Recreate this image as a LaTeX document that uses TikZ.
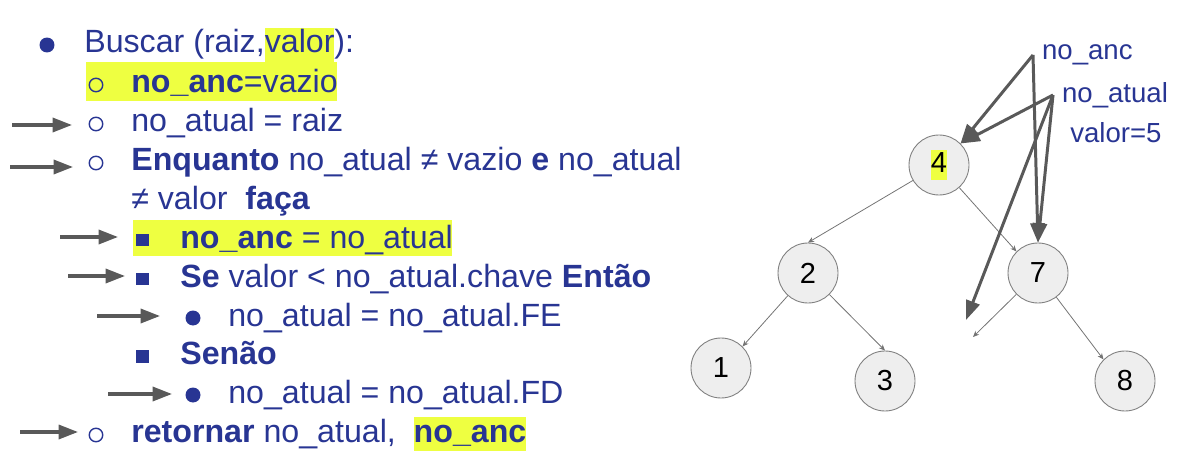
\documentclass[tikz,border=0pt]{standalone}
\usepackage{fontspec}
\setmainfont{Liberation Sans}
\usepackage{tikz}
\usetikzlibrary{arrows.meta, positioning}
\definecolor{inkblue}{HTML}{283593}
\definecolor{hilite}{HTML}{EEFF41}
\definecolor{ptrgray}{HTML}{595959}
\definecolor{keyfill}{HTML}{EEEEEE}
\newcommand{\hl}[1]{{\setlength{\fboxsep}{0pt}\colorbox{hilite}{\rule[-0.27em]{0pt}{1.05em}#1}}}
\tikzset{
    x=0.02cm, y=-0.02cm, % one unit is one pixel of the slide
    codeline/.style={anchor=base west, inner sep=0pt, text=inkblue, font=\fontsize{18.3}{22}\selectfont}, % a line of the pseudo code
    dotbullet/.style={circle, fill=inkblue, inner sep=0pt, minimum size=0.3cm},
    ringbullet/.style={circle, draw=inkblue, line width=0.8pt, inner sep=0pt, minimum size=0.27cm},
    sqbullet/.style={rectangle, fill=inkblue, inner sep=0pt, minimum size=0.26cm},
    ptr/.style={draw=ptrgray, line width=1.8pt, -{Triangle[length=11pt, width=8pt]}}, % arrows on the left
}

\begin{document}
\begin{tikzpicture}[
                                key/.style={circle, draw=gray, line width=0.5pt, fill=keyfill, minimum size=1.2cm, inner sep=0pt, font=\fontsize{16.5}{18}\selectfont},
                                treeedge/.style={draw=gray!90!black, line width=0.45pt, -{Stealth[length=3.5pt, width=3pt]}},
                                bigptr/.style={draw=ptrgray, line width=1.7pt, -{Triangle[length=11pt, width=8pt]}},
                                varlabel/.style={anchor=west, inner sep=0pt, inner xsep=5pt, text=inkblue, font=\fontsize{15.7}{18}\selectfont},
                            ]
                            \useasboundingbox (0,0) rectangle (1197,473);
                            % highlighted lines
                            \fill[hilite] (86,62) rectangle (337,101);
                            \fill[hilite] (133,220) rectangle (452,256);

                            \node[dotbullet] (b1) at (47,45) {};
                            \node[codeline] (l1) at (84,53) {Buscar (raiz,\hl{valor}):};
                            \node[ringbullet] (b2) at (96,85) {};
                            \node[codeline] (l2) at (131,92) {\textbf{no\_anc}=vazio};
                            \node[ringbullet] (b3) at (96,124) {};
                            \node[codeline] (l3) at (131,132) {no\_atual = raiz};
                            \node[ringbullet] (b4) at (96,163) {};
                            \node[codeline] (l4) at (131,171) {\textbf{Enquanto} no\_atual ≠ vazio \textbf{e} no\_atual};
                            \node[codeline] (l5) at (131,209) {≠ valor \ \textbf{faça}};
                            \node[sqbullet] (b6) at (142,240) {};
                            \node[codeline] (l6) at (180,248) {\textbf{no\_anc} = no\_atual};
                            \node[sqbullet] (b7) at (142,279) {};
                            \node[codeline] (l7) at (180,287) {\textbf{Se} valor < no\_atual.chave \textbf{Então}};
                            \node[dotbullet] (b8) at (193,318) {};
                            \node[codeline] (l8) at (228,326) {no\_atual = no\_atual.FE};
                            \node[sqbullet] (b9) at (142,356) {};
                            \node[codeline] (l9) at (180,364) {\textbf{Senão}};
                            \node[dotbullet] (b10) at (193,395) {};
                            \node[codeline] (l10) at (228,403) {no\_atual = no\_atual.FD};
                            \node[ringbullet] (b11) at (96,435) {};
                            \node[codeline] (l11) at (131,442) {\textbf{retornar} no\_atual, \ \hl{\textbf{no\_anc}}};

                            % steps already run
                            \coordinate (s3) at (12,125);   \coordinate (t3) at (72,125);
                            \coordinate (s4) at (10,167);   \coordinate (t4) at (73,167);
                            \coordinate (s6) at (60,237);   \coordinate (t6) at (118,237);
                            \coordinate (s7) at (68,276);   \coordinate (t7) at (125,276);
                            \coordinate (s8) at (97,316);   \coordinate (t8) at (160,316);
                            \coordinate (s10) at (108,394); \coordinate (t10) at (172,394);
                            \coordinate (s11) at (20,432);  \coordinate (t11) at (78,432);
                            \draw[ptr] (s3) -- (t3);
                            \draw[ptr] (s4) -- (t4);
                            \draw[ptr] (s6) -- (t6);
                            \draw[ptr] (s7) -- (t7);
                            \draw[ptr] (s8) -- (t8);
                            \draw[ptr] (s10) -- (t10);
                            \draw[ptr] (s11) -- (t11);

                            % the tree
                            \node[key] (n4) at (939,165) {\hl{4}};
                            \node[key] (n2) at (808,273) {2};
                            \node[key] (n7) at (1038,273) {7};
                            \node[key] (n1) at (721,368) {1};
                            \node[key] (n3) at (885,381) {3};
                            \node[key] (n8) at (1125,381) {8};
                            \coordinate (nil) at (973,337);
                            \draw[treeedge] (n4) -- (n2.north);
                            \draw[treeedge] (n4) -- (n7.135);
                            \draw[treeedge] (n2) -- (n1.45);
                            \draw[treeedge] (n2) -- (n3.north);
                            \draw[treeedge] (n7) -- (n8.135);
                            \draw[treeedge] (n7) -- (nil);

                            % variables
                            \node[varlabel] (lanc) at (1033,55) {no\_anc};
                            \node[varlabel] (latual) at (1053,95) {no\_atual};
                            \node[varlabel, inner xsep=0pt] (lvalor) at (1070,133) {valor=5};
                            \coordinate (gone) at (966,320);
                            \draw[bigptr] (lanc.west) -- (n4.45);
                            \draw[bigptr] (lanc.west) -- (n7.north);
                            \draw[bigptr] (latual.west) -- (n4.45);
                            \draw[bigptr] (latual.west) -- (n7.north);
                            \draw[bigptr] (latual.west) -- (gone);
                        \end{tikzpicture}
\end{document}
